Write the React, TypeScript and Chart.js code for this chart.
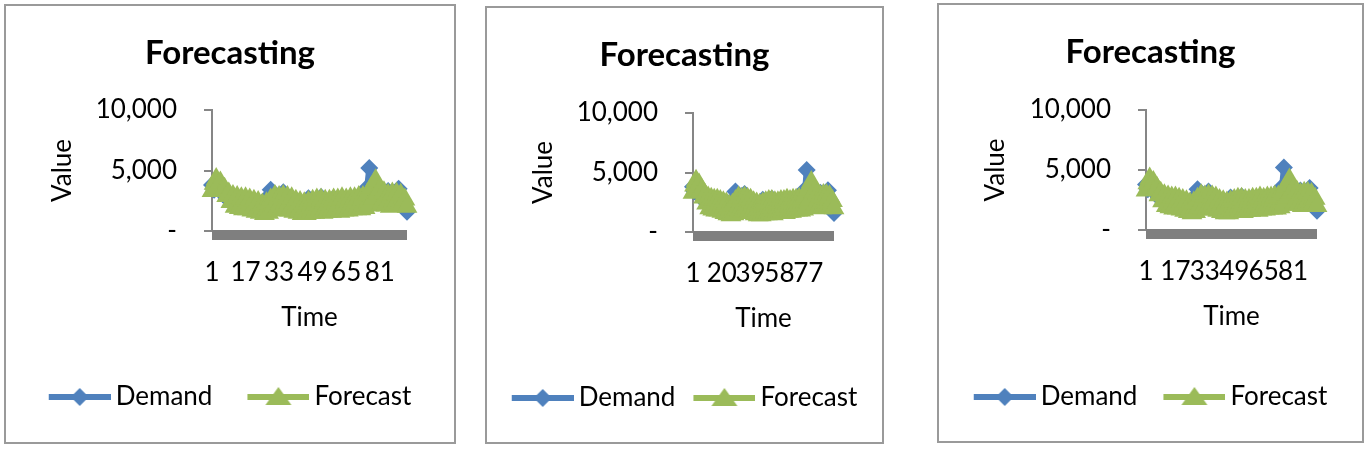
import React, { useEffect, useRef } from 'react';
import Chart from 'chart.js/auto';

const TIME = [
  1, 2, 3, 4, 5, 6, 7, 8, 9, 10, 11, 12, 13, 14, 15, 16, 17, 18, 19, 20,
  21, 22, 23, 24, 25, 26, 27, 28, 29, 30, 31, 32, 33, 34, 35, 36, 37, 38, 39, 40,
  41, 42, 43, 44, 45, 46, 47, 48, 49, 50, 51, 52, 53, 54, 55, 56, 57, 58, 59, 60,
  61, 62, 63, 64, 65, 66, 67, 68, 69, 70, 71, 72, 73, 74, 75, 76, 77, 78, 79, 80,
  81, 82, 83, 84, 85, 86, 87, 88, 89, 90, 91, 92, 93, 94,
];

const DEMAND = [
  3800, 3400, 3900, 3500, 3600, 3100, 3100, 2700, 2800, 2400,
  2600, 2200, 2500, 2100, 2400, 2000, 2400, 2000, 2300, 1900,
  2200, 1800, 2200, 1900, 2300, 2100, 2700, 2500, 3400, 2500,
  2700, 2200, 2600, 2200, 3200, 2300, 2600, 2000, 2500, 1900,
  2300, 1800, 2200, 1800, 2200, 1800, 2700, 1900, 2300, 1900,
  2400, 2000, 2800, 1900, 2400, 2000, 2300, 1900, 2700, 2000,
  2400, 2000, 2500, 2100, 2500, 2100, 2500, 2200, 2600, 2200,
  2600, 2300, 2800, 2500, 3600, 5200, 3500, 2900, 3200, 2600,
  2900, 2500, 2900, 2500, 3300, 2500, 2800, 2500, 3000, 3500,
  2700, 2500, 2200, 1600,
];

const FORECAST = [
  3300, 3900, 4300, 3800, 4000, 3400, 3500, 2900, 3100, 2400,
  2900, 2000, 2800, 1900, 2700, 1800, 2700, 1800, 2600, 1700,
  2500, 1600, 2400, 1500, 2200, 1400, 2300, 1500, 2600, 1900,
  2900, 1800, 2800, 1700, 2900, 1800, 2800, 1700, 2700, 1600,
  2500, 1500, 2400, 1400, 2300, 1400, 2400, 1500, 2500, 1500,
  2600, 1600, 2600, 1500, 2500, 1600, 2500, 1600, 2600, 1700,
  2600, 1600, 2700, 1700, 2600, 1700, 2700, 1800, 2700, 1800,
  2800, 1800, 2800, 1900, 3000, 2100, 3600, 2700, 4200, 3100,
  3400, 2300, 3200, 2100, 3000, 2000, 3100, 2100, 3100, 2100,
  3000, 2200, 2600, 2000,
];

const Y_TICKS = [0, 5000, 10000];
const SERIES_NAMES = ['Demand', 'Forecast'];
const TITLE = 'Forecasting';
const X_TITLE = 'Time';
const Y_TITLE = 'Value';

const BLUE = '#4F81BD';
const GREEN = '#9BBB59';
const FONT = 'Lato';

// layout of the three panels (page px)
const PANELS = [
  { left: 4, top: 4, w: 452, h: 440, labelStep: 16, chartTop: 104, chartBottom: 225, yWidth: 206, rightGap: 47, legendPad: 35, legendCenter: 391 },
  { left: 485, top: 6, w: 399, h: 438, labelStep: 19, chartTop: 105, chartBottom: 224, yWidth: 206, rightGap: 48, legendPad: 18, legendCenter: 390 },
  { left: 937, top: 3, w: 427, h: 440, labelStep: 16, chartTop: 105, chartBottom: 225, yWidth: 207, rightGap: 45, legendPad: 26, legendCenter: 392 },
];

function legendImage(color: string, kind: 'diamond' | 'triangle') {
  const c = document.createElement('canvas');
  c.width = 70;
  c.height = 24;
  const ctx = c.getContext('2d')!;
  ctx.strokeStyle = color;
  ctx.fillStyle = color;
  ctx.lineWidth = 6;
  ctx.beginPath();
  ctx.moveTo(8, 12);
  ctx.lineTo(70, 12);
  ctx.stroke();
  const cx = 39;
  ctx.beginPath();
  if (kind === 'diamond') {
    ctx.moveTo(cx, 3);
    ctx.lineTo(cx + 9, 12);
    ctx.lineTo(cx, 21);
    ctx.lineTo(cx - 9, 12);
  } else {
    ctx.moveTo(cx, 2);
    ctx.lineTo(cx + 13, 20);
    ctx.lineTo(cx - 13, 20);
  }
  ctx.closePath();
  ctx.fill();
  return c;
}

const barPlugin = {
  id: 'axisBar',
  beforeDatasetsDraw(chart: any) {
    const { ctx, chartArea } = chart;
    ctx.save();
    ctx.fillStyle = '#7f7f7f';
    ctx.fillRect(chartArea.left, chartArea.bottom - 1, chartArea.right - chartArea.left, 10);
    ctx.restore();
  },
};

function Panel({ cfg }: { cfg: typeof PANELS[number] }) {
  const ref = useRef<HTMLCanvasElement>(null);
  const cw = cfg.w - 4;
  const ch = cfg.h - 4;
  useEffect(() => {
    const titleSize = 33;
    const titleLine = titleSize * 1.2;
    const tPadTop = 28;
    const tPadBottom = cfg.chartTop - tPadTop - titleLine;
    const hx = cfg.legendCenter - cfg.chartBottom - cfg.legendPad - 13;
    const xTitlePadBottom = hx - 86.5 - 15.6;
    const legendH = 26 + cfg.legendPad + 10;
    const padBottom = ch - cfg.chartBottom - hx - legendH;
    const imgs = [legendImage(BLUE, 'diamond'), legendImage(GREEN, 'triangle')];
    const chart = new Chart(ref.current!, {
      type: 'line',
      data: {
        labels: TIME,
        datasets: [
          {
            label: SERIES_NAMES[0],
            data: DEMAND,
            borderColor: BLUE,
            backgroundColor: BLUE,
            borderWidth: 6,
            borderJoinStyle: 'round',
            borderCapStyle: 'round',
            pointStyle: 'rectRot',
            pointRadius: 9,
            pointBorderWidth: 0,
            pointBackgroundColor: BLUE,
            order: 2,
            clip: false as any,
          },
          {
            label: SERIES_NAMES[1],
            data: FORECAST,
            borderColor: GREEN,
            backgroundColor: GREEN,
            borderWidth: 7,
            borderJoinStyle: 'round',
            borderCapStyle: 'round',
            pointStyle: 'triangle',
            pointRadius: 12,
            pointBorderWidth: 0,
            pointBackgroundColor: GREEN,
            order: 1,
            clip: false as any,
          },
        ],
      },
      options: {
        responsive: false,
        animation: false,
        events: [],
        devicePixelRatio: 1,
        layout: { padding: { left: 0, right: 0, top: 0, bottom: padBottom } },
        plugins: {
          tooltip: { enabled: false },
          title: {
            display: true,
            text: TITLE,
            color: '#000',
            font: { family: FONT, size: titleSize, weight: 'bold', lineHeight: 1.2 },
            padding: { top: tPadTop, bottom: tPadBottom },
          },
          legend: {
            position: 'bottom',
            labels: {
              usePointStyle: true,
              pointStyleWidth: 54,
              padding: cfg.legendPad,
              color: '#000',
              font: { family: FONT, size: 26 },
              sort: (a: any, b: any) => a.datasetIndex - b.datasetIndex,
              generateLabels: (c: any) => {
                const items = (Chart as any).defaults.plugins.legend.labels.generateLabels(c);
                items.forEach((it: any) => {
                  it.pointStyle = imgs[it.datasetIndex];
                });
                return items;
              },
            },
          },
        },
        scales: {
          x: {
            grid: { display: false, drawTicks: false },
            border: { display: false },
            ticks: {
              autoSkip: false,
              maxRotation: 0,
              minRotation: 0,
              padding: 26,
              color: '#000',
              font: { family: FONT, size: 26 },
              callback: (_v: any, i: number) => (i % cfg.labelStep === 0 ? String(TIME[i]) : ''),
            },
            title: {
              display: true,
              text: X_TITLE,
              color: '#000',
              font: { family: FONT, size: 26, lineHeight: 1.2 },
              padding: { top: 0, bottom: xTitlePadBottom },
            },
            afterFit: (s: any) => {
              s.height = hx;
            },
          },
          y: {
            min: Y_TICKS[0],
            max: Y_TICKS[Y_TICKS.length - 1],
            afterBuildTicks: (s: any) => {
              s.ticks = Y_TICKS.map((v) => ({ value: v }));
            },
            grid: { drawOnChartArea: false, drawTicks: true, tickLength: 8, color: '#868686', lineWidth: 2 },
            border: { display: true, color: '#868686', width: 2 },
            ticks: {
              padding: 27,
              color: '#000',
              font: { family: FONT, size: 26 },
              callback: (v: any) => (v === 0 ? '-' : Number(v).toLocaleString('en-US')),
            },
            title: {
              display: true,
              text: Y_TITLE,
              color: '#000',
              font: { family: FONT, size: 26, lineHeight: 1.2 },
              padding: { top: 41, bottom: 0 },
            },
            afterFit: (s: any) => {
              s.width = cfg.yWidth;
            },
          },
          yR: {
            type: 'linear',
            position: 'right',
            display: true,
            grid: { display: false },
            border: { display: false },
            ticks: { display: false },
            afterFit: (s: any) => {
              s.width = cfg.rightGap;
            },
          },
        },
      } as any,
      plugins: [barPlugin],
    });
    return () => chart.destroy();
  }, []);
  return (
    <div
      style={{
        position: 'absolute',
        left: cfg.left,
        top: cfg.top,
        width: cfg.w,
        height: cfg.h,
        boxSizing: 'border-box',
        border: '2px solid #9a9a9a',
        background: '#fff',
      }}
    >
      <canvas ref={ref} width={cw} height={ch} style={{ display: 'block', width: cw, height: ch }} />
    </div>
  );
}

export default function App() {
  return (
    <div style={{ position: 'absolute', left: 0, top: 0, width: 1367, height: 462, background: '#fff' }}>
      {PANELS.map((p, i) => (
        <Panel key={i} cfg={p} />
      ))}
    </div>
  );
}
